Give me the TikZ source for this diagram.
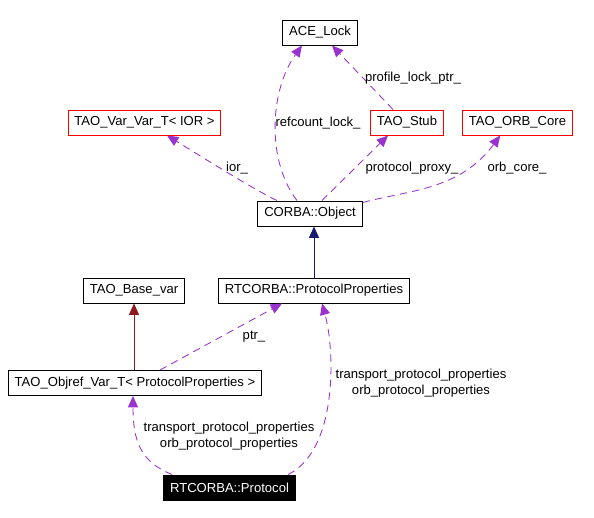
\documentclass[tikz,border=0pt]{standalone}
\usepackage{fontspec}
\setmainfont{Liberation Sans}
\usetikzlibrary{arrows.meta}

\definecolor{edgepurple}{RGB}{154,50,205}
\definecolor{inhnavy}{RGB}{25,25,112}
\definecolor{inhred}{RGB}{139,26,26}

\tikzset{
  classbox/.style={draw=black,line width=0.75pt,inner xsep=4.8pt,inner ysep=0pt,minimum height=18.75pt,font=\fontsize{9.8}{11.7}\selectfont},
  redbox/.style={classbox,draw=red},
  usebox/.style={classbox,fill=black,text=white},
  uselink/.style={draw=edgepurple,line width=0.65pt,dash pattern=on 5.5pt off 4pt,-{Triangle[length=8.5pt,width=7.5pt]}},
  inhlink/.style={line width=0.65pt,-{Triangle[length=8.5pt,width=7.5pt]}},
  edgelabel/.style={font=\fontsize{9.8}{11.7}\selectfont,align=center,inner sep=0pt}
}

\begin{document}
\begin{tikzpicture}[x=0.75pt,y=0.75pt,yscale=-1,xscale=1]
\useasboundingbox (0,0) rectangle (594,518);

%Class boxes
\draw (320,32.5) node [classbox] (aceLock) {ACE\_Lock};
\draw (144.5,122.5) node [redbox] (varVar) {TAO\_Var\_Var\_T< IOR >};
\draw (407,122.5) node [redbox] (taoStub) {TAO\_Stub};
\draw (517.5,122.5) node [redbox] (orbCore) {TAO\_ORB\_Core};
\draw (310,213.5) node [classbox] (corbaObj) {CORBA::Object};
\draw (134,290.5) node [classbox] (baseVar) {TAO\_Base\_var};
\draw (314,290.5) node [classbox] (protoProps) {RTCORBA::ProtocolProperties};
\draw (135,383) node [classbox] (objrefVar) {TAO\_Objref\_Var\_T< ProtocolProperties >};
\draw (229.5,487.5) node [usebox] (protocol) {RTCORBA::Protocol};

%Inheritance
\draw [inhlink,draw=inhnavy] (protoProps.north) -- (protoProps.north |- corbaObj.south);
\draw [inhlink,draw=inhred] (objrefVar.north -| baseVar.south) -- (baseVar.south);

%Usage links
\draw [uselink] ([xshift=-9.75pt]corbaObj.north) .. controls (266,160) and (270,90) .. ([xshift=-13.5pt]aceLock.south);
\draw [uselink] ([xshift=-10.5pt]taoStub.north) -- ([xshift=9pt]aceLock.south);
\draw [uselink] ([xshift=-24.75pt]corbaObj.north) .. controls (255,190) and (215,165) .. ([xshift=16.9pt]varVar.south);
\draw [uselink] ([xshift=9pt]corbaObj.north) -- ([xshift=-14.25pt]taoStub.south);
\draw [uselink] ([yshift=1.5pt]corbaObj.north east) .. controls (410,190) and (460,190) .. ([xshift=-13pt]orbCore.south);
\draw [uselink] ([xshift=18.75pt]objrefVar.north) -- ([xshift=-24pt]protoProps.south);
\draw [uselink] ([xshift=-43pt]protocol.north) .. controls (140,462) and (133,440) .. ([xshift=-1.5pt]objrefVar.south);
\draw [uselink] ([xshift=44pt]protocol.north) .. controls (338,450) and (335,350) .. ([xshift=6pt]protoProps.south);

% Text Node
\draw (318,123) node [edgelabel] (lblRefcount) {refcount\_lock\_};
% Text Node
\draw (413,78) node [edgelabel] (lblProfile) {profile\_lock\_ptr\_};
% Text Node
\draw (237,168) node [edgelabel] (lblIor) {ior\_};
% Text Node
\draw (412,168) node [edgelabel] (lblProxy) {protocol\_proxy\_};
% Text Node
\draw (517,168) node [edgelabel] (lblOrbCore) {orb\_core\_};
% Text Node
\draw (254,337) node [edgelabel] (lblPtr) {ptr\_};
% Text Node
\draw (421,383) node [edgelabel] (lblRight) {transport\_protocol\_properties\\orb\_protocol\_properties};
% Text Node
\draw (229,436) node [edgelabel] (lblLeft) {transport\_protocol\_properties\\orb\_protocol\_properties};

\end{tikzpicture}
\end{document}
